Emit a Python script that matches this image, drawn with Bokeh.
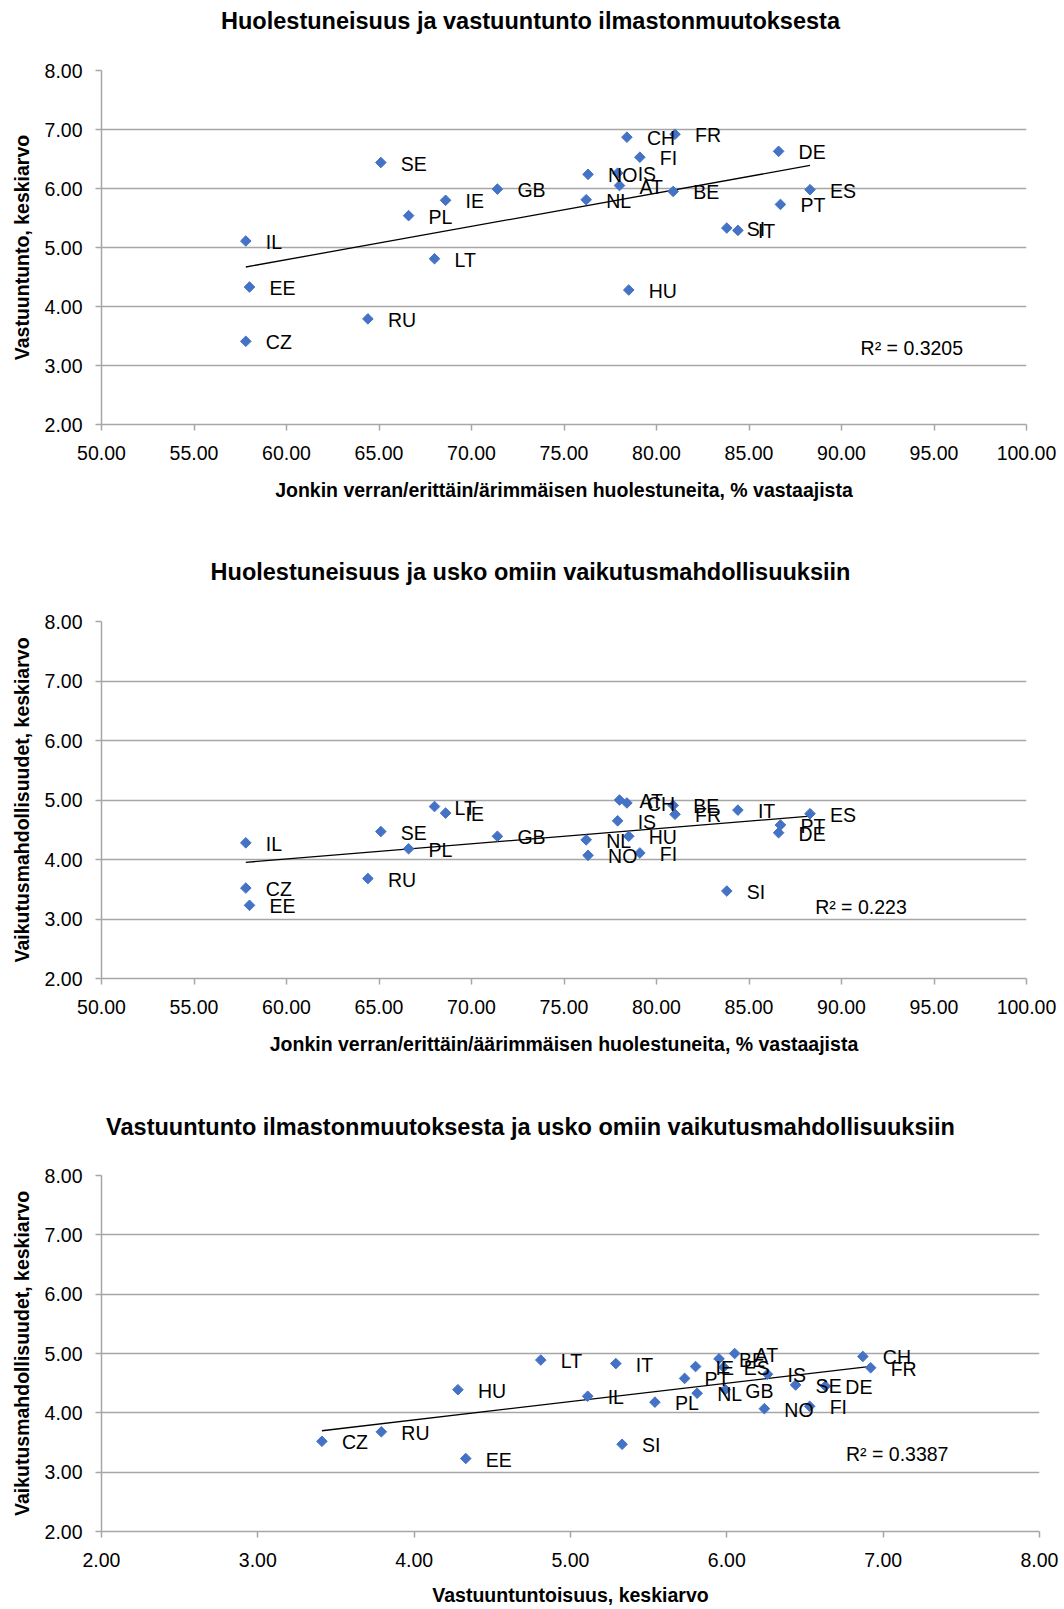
import numpy as np
from bokeh.plotting import figure
from bokeh.models import Range1d, SingleIntervalTicker, PrintfTickFormatter, Label
from bokeh.core.properties import value
from bokeh.embed import file_html
from bokeh.resources import INLINE

# ---------------- data ----------------
countries = ["IL", "EE", "CZ", "RU", "SE", "PL", "IE", "LT", "GB", "NO", "NL", "IS",
             "AT", "CH", "HU", "FI", "BE", "FR", "SI", "IT", "DE", "PT", "ES"]
# % of respondents somewhat/very/extremely worried
concern = [57.8, 58.0, 57.8, 64.4, 65.1, 66.6, 68.6, 68.0, 71.4, 76.3, 76.2, 77.9,
           78.0, 78.4, 78.5, 79.1, 80.9, 81.0, 83.8, 84.4, 86.6, 86.7, 88.3]
# feeling of responsibility, mean
responsibility = [5.11, 4.33, 3.41, 3.79, 6.44, 5.54, 5.80, 4.81, 5.99, 6.24, 5.81, 6.26,
                  6.05, 6.87, 4.28, 6.53, 5.95, 6.92, 5.33, 5.29, 6.63, 5.73, 5.98]
# belief in own possibilities to influence, mean
efficacy = [4.28, 3.23, 3.52, 3.68, 4.47, 4.18, 4.78, 4.89, 4.39, 4.07, 4.33, 4.65,
            5.00, 4.95, 4.39, 4.11, 4.91, 4.76, 3.47, 4.83, 4.45, 4.58, 4.77]

titles = ["Huolestuneisuus ja vastuuntunto ilmastonmuutoksesta",
          "Huolestuneisuus ja usko omiin vaikutusmahdollisuuksiin",
          "Vastuuntunto ilmastonmuutoksesta ja usko omiin vaikutusmahdollisuuksiin"]
x_titles = ["Jonkin verran/erittäin/ärimmäisen huolestuneita, % vastaajista",
            "Jonkin verran/erittäin/äärimmäisen huolestuneita, % vastaajista",
            "Vastuuntuntoisuus, keskiarvo"]
y_titles = ["Vastuuntunto, keskiarvo",
            "Vaikutusmahdollisuudet, keskiarvo",
            "Vaikutusmahdollisuudet, keskiarvo"]
r2_texts = ["R² = 0.3205", "R² = 0.223", "R² = 0.3387"]

FONT = "Liberation Sans"
GRID = "#A6A6A6"
BLUE = "#4472C4"
FS = "19.5px"
W = 1064


def title_fig(k, height, ymid):
    """A thin strip holding the chart title, centred on the page."""
    t = figure(width=W, height=height, output_backend="svg", toolbar_location=None,
               x_range=Range1d(0, W), y_range=Range1d(0, height),
               min_border=0, min_border_left=0, min_border_right=0,
               min_border_top=0, min_border_bottom=0)
    t.axis.visible = False
    t.grid.visible = False
    t.outline_line_color = None
    t.background_fill_color = "white"
    t.border_fill_color = "white"
    t.text([530], [ymid], text=[titles[k]], text_align="center",
           text_baseline="middle", text_font=value(FONT),
           text_font_size="23.5px", text_font_style="bold", text_color="black")
    return t


def make(xs, ys, k, xr, xint, height, btop, bbottom, bright, r2pos, xstand):
    p = figure(width=W, height=height, output_backend="svg", toolbar_location=None,
               x_range=Range1d(*xr), y_range=Range1d(2, 8),
               min_border_left=101, min_border_right=bright,
               min_border_top=btop, min_border_bottom=bbottom)
    p.background_fill_color = "white"
    p.border_fill_color = "white"
    p.outline_line_color = None

    p.xaxis.ticker = SingleIntervalTicker(interval=xint)
    p.yaxis.ticker = SingleIntervalTicker(interval=1)
    for ax in (p.xaxis, p.yaxis):
        ax.formatter = PrintfTickFormatter(format="%.2f")
        ax.axis_line_color = GRID
        ax.axis_line_width = 1.5
        ax.major_tick_line_color = GRID
        ax.major_tick_line_width = 1.5
        ax.major_tick_in = 0
        ax.major_tick_out = 6
        ax.minor_tick_line_color = None
        ax.major_label_text_font = FONT
        ax.major_label_text_font_size = FS
        ax.major_label_text_color = "black"
        ax.axis_label_text_font = FONT
        ax.axis_label_text_font_size = FS
        ax.axis_label_text_font_style = "bold"
        ax.axis_label_text_color = "black"
    p.xaxis.major_label_standoff = 15
    p.yaxis.major_label_standoff = 13
    p.xaxis.axis_label = x_titles[k]
    p.yaxis.axis_label = y_titles[k]
    p.xaxis.axis_label_standoff = xstand
    p.yaxis.axis_label_standoff = 9

    p.xgrid.grid_line_color = None
    p.ygrid.grid_line_color = GRID
    p.ygrid.grid_line_width = 1.5

    # linear trend line fitted to the data
    a, b = np.polyfit(xs, ys, 1)
    x0, x1 = min(xs), max(xs)
    p.line([x0, x1], [a * x0 + b, a * x1 + b], line_color="black", line_width=1.3)

    p.scatter(xs, ys, marker="square", angle=np.pi / 4, size=7.5,
              fill_color=BLUE, line_color=BLUE)
    p.text(xs, ys, text=countries, x_offset=20, y_offset=1,
           text_align="left", text_baseline="middle",
           text_font=value(FONT), text_font_size=FS, text_color="black")

    p.add_layout(Label(x=r2pos[0], y=r2pos[1], text=r2_texts[k], text_align="center",
                       text_baseline="middle", text_font=FONT,
                       text_font_size=FS, text_color="black"))
    return p


t1 = title_fig(0, 45, 24.5)
p1 = make(concern, responsibility, 0, (50, 100), 5, 499, 25, 120, 38, (93.8, 3.29), 16)
t2 = title_fig(1, 52, 24.4)
p2 = make(concern, efficacy, 1, (50, 100), 5, 497, 25, 115, 38, (91.05, 3.21), 16)
t3 = title_fig(2, 52, 18.3)
p3 = make(responsibility, efficacy, 2, (2, 8), 1, 464, 30, 78, 25, (7.09, 3.30), 14)

open("out.html", "w").write(file_html([t1, p1, t2, p2, t3, p3], INLINE))
